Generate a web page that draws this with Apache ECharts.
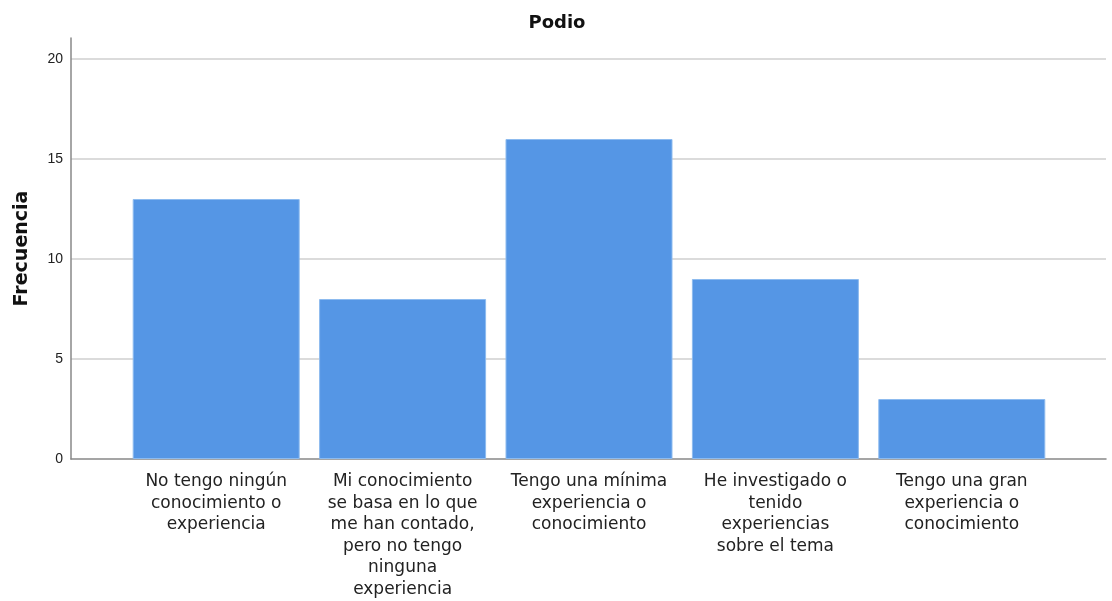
<!DOCTYPE html>
<html>
<head>
<meta charset="utf-8">
<style>
  html, body { margin: 0; padding: 0; background: #fff; }
  #chart { width: 1112px; height: 601px; }
</style>
<script src="https://cdn.jsdelivr.net/npm/echarts@6/dist/echarts.min.js"></script>
</head>
<body>
<div id="chart"></div>
<script>
// categorias del eje x (con saltos de linea como en el original)
const categories = [
  'No tengo ningún\nconocimiento o\nexperiencia',
  'Mi conocimiento\nse basa en lo que\nme han contado,\npero no tengo\nninguna\nexperiencia',
  'Tengo una mínima\nexperiencia o\nconocimiento',
  'He investigado o\ntenido\nexperiencias\nsobre el tema',
  'Tengo una gran\nexperiencia o\nconocimiento'
];
const frecuencias = [13, 8, 16, 9, 3];
const yTicks = [0, 5, 10, 15, 20];

const chart = echarts.init(document.getElementById('chart'));

const yMax = 21.05;
const gridTop = 38, gridBottom = 142;

chart.setOption({
  animation: false,
  title: {
    text: 'Podio',
    left: 552,
    top: 9,
    textAlign: 'center',
    textStyle: { fontFamily: 'DejaVu Sans', fontWeight: 'bold', fontSize: 18, color: '#111' }
  },
  grid: [
    // rejilla completa: eje y, lineas de division y eje x
    { left: 71, right: 6, top: gridTop, bottom: gridBottom, outerBoundsMode: 'none', containLabel: false },
    // rejilla de las barras (categorias con margen a los lados)
    { left: 123, right: 57, top: gridTop, bottom: gridBottom, outerBoundsMode: 'none', containLabel: false }
  ],
  xAxis: [
    {
      gridIndex: 0, type: 'category', data: [''],
      axisLine: { show: true, lineStyle: { color: '#888', width: 1.5 } },
      axisTick: { show: false }, axisLabel: { show: false }
    },
    {
      gridIndex: 1, type: 'category', data: categories,
      axisLine: { show: false }, axisTick: { show: false },
      axisLabel: {
        interval: 0, margin: 12,
        fontFamily: 'DejaVu Sans', fontSize: 17, lineHeight: 21.5, color: '#222'
      }
    }
  ],
  yAxis: [
    {
      gridIndex: 0, type: 'value', min: 0, max: yMax, interval: 5,
      name: 'Frecuencia', nameLocation: 'middle', nameGap: 39,
      nameTextStyle: { fontFamily: 'DejaVu Sans', fontWeight: 'bold', fontSize: 19, color: '#111' },
      axisLine: { show: true, lineStyle: { color: '#888', width: 1.5 } },
      axisTick: { show: false },
      axisLabel: {
        showMaxLabel: false, margin: 8,
        fontFamily: 'Liberation Sans', fontSize: 14, color: '#222',
        formatter: v => (yTicks.indexOf(v) >= 0 ? String(v) : '')
      },
      splitLine: { show: true, showMaxLine: false, showMinLine: false, lineStyle: { color: '#cfcfcf', width: 1.5 } }
    },
    {
      gridIndex: 1, type: 'value', min: 0, max: yMax,
      show: false, splitLine: { show: false }
    }
  ],
  series: [
    {
      type: 'bar',
      xAxisIndex: 1, yAxisIndex: 1,
      data: frecuencias,
      barWidth: 167,
      itemStyle: { color: '#5596e5', borderColor: '#8dbbef', borderWidth: 1 },
      z: 3
    }
  ]
});
</script>
</body>
</html>
